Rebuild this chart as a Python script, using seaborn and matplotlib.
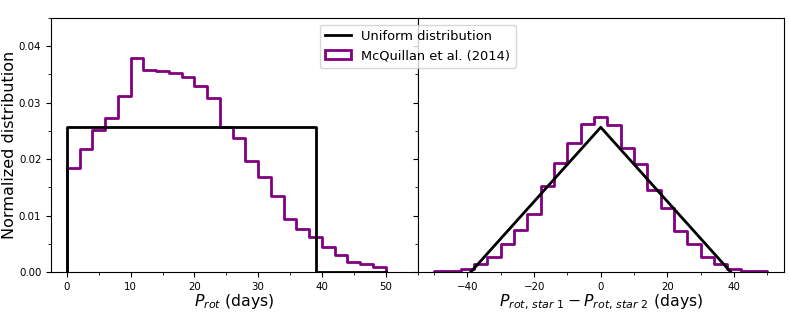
import numpy as np
import matplotlib
matplotlib.use("Agg")
import matplotlib.pyplot as plt
import seaborn as sns
from matplotlib.lines import Line2D
from matplotlib.patches import Patch
from matplotlib.ticker import MultipleLocator

# ---- data ----
prot_edges = np.arange(0, 52, 2)
prot_heights = [0.0184, 0.0218, 0.0251, 0.0272, 0.0311, 0.0379, 0.0357, 0.0356,
                0.0353, 0.0345, 0.0330, 0.0308, 0.0257, 0.0238, 0.0196, 0.0168,
                0.0135, 0.0094, 0.0077, 0.0062, 0.0044, 0.0030, 0.0018, 0.0014,
                0.0008]
diff_edges = np.arange(-50, 54, 4)
diff_heights = [0.0002, 0.0002, 0.0006, 0.0015, 0.0027, 0.0049, 0.0074, 0.0102,
                0.0152, 0.0193, 0.0229, 0.0263, 0.0274, 0.0261, 0.0220, 0.0192,
                0.0146, 0.0114, 0.0073, 0.0049, 0.0027, 0.0015, 0.0005, 0.0002,
                0.0002]
uniform_x = [0, 0, 39, 39, 50]
uniform_y = [0, 1 / 39, 1 / 39, 0, 0]
tri_x = [-39, 0, 39]
tri_y = [0, 1 / 39, 0]

xlabels = [r"$P_{rot}$ (days)", r"$P_{rot,\,star\ 1} - P_{rot,\,star\ 2}$ (days)"]
ylabel = "Normalized distribution"
legend_labels = ["Uniform distribution", "McQuillan et al. (2014)"]

PURPLE = "purple"


def step_outline(edges, heights):
    edges = np.asarray(edges, dtype=float)
    heights = np.asarray(heights, dtype=float)
    x = np.concatenate([[edges[0]], edges[:-1], [edges[-1], edges[-1]]])
    y = np.concatenate([[0.0], heights, [heights[-1], 0.0]])
    return x, y


fig, (ax1, ax2) = plt.subplots(1, 2, sharey=True, figsize=(7.89, 3.15), dpi=100)
fig.subplots_adjust(left=51 / 789, right=784 / 789, top=1 - 18 / 315,
                    bottom=1 - 272 / 315, wspace=0)

hx, hy = step_outline(prot_edges, prot_heights)
sns.lineplot(x=hx, y=hy, ax=ax1, color=PURPLE, lw=2, drawstyle="steps-post",
             estimator=None, sort=False)
sns.lineplot(x=uniform_x, y=uniform_y, ax=ax1, color="black", lw=2,
             estimator=None, sort=False)

dx, dy = step_outline(diff_edges, diff_heights)
sns.lineplot(x=dx, y=dy, ax=ax2, color=PURPLE, lw=2, drawstyle="steps-post",
             estimator=None, sort=False)
sns.lineplot(x=tri_x, y=tri_y, ax=ax2, color="black", lw=2,
             estimator=None, sort=False)

ax1.set_xlim(-2.5, 55)
ax2.set_xlim(-55, 55)
ax1.set_ylim(0, 0.045)

ax1.xaxis.set_major_locator(MultipleLocator(10))
ax1.xaxis.set_minor_locator(MultipleLocator(5))
ax2.xaxis.set_major_locator(MultipleLocator(20))
ax2.xaxis.set_minor_locator(MultipleLocator(10))
ax1.yaxis.set_major_locator(MultipleLocator(0.01))
ax1.yaxis.set_minor_locator(MultipleLocator(0.005))

for ax, xl in zip((ax1, ax2), xlabels):
    ax.tick_params(axis="both", which="major", labelsize=7.4)
    ax.set_xlabel(xl, fontsize=11.3, labelpad=0.5)
ax1.set_ylabel(ylabel, fontsize=11.5, labelpad=1.5)
ax2.set_ylabel("")
ax2.tick_params(axis="y", labelleft=False)

handles = [Line2D([], [], color="black", lw=2),
           Patch(facecolor="white", edgecolor=PURPLE, lw=2)]
ax2.legend(handles, legend_labels, loc="upper center", bbox_to_anchor=(0.0, 1.0),
           fontsize=9.4)

fig.savefig("out.png", dpi=100)
